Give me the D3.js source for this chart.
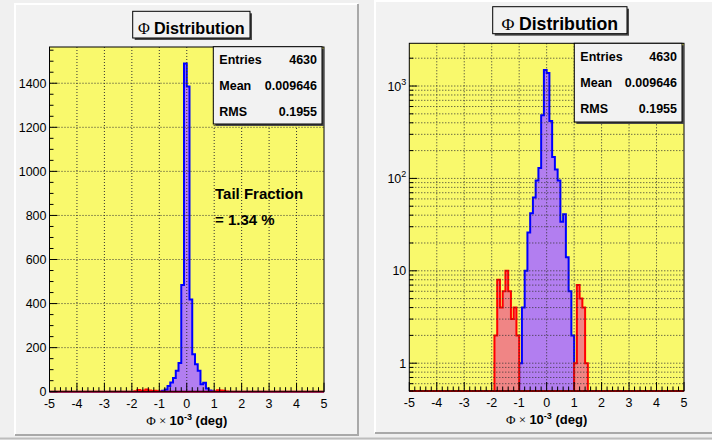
<!DOCTYPE html>
<html>
<head>
<meta charset="utf-8">
<script src="https://cdn.jsdelivr.net/npm/d3@7"></script>
<style>
  body { margin: 0; background: #f0f0f0; }
  svg { display: block; font-family: "Liberation Sans", Arial, sans-serif; }
</style>
</head>
<body>
<svg id="chart" width="712" height="440"></svg>
<script>
// histogram contents, bins of 0.1 between -5 and 5
const xMin = -5, xMax = 5, binWidth = 0.1;
const coreLow = [-1.0, -0.9, -0.8, -0.7, -0.6, -0.5, -0.4, -0.3, -0.2, -0.1,
                 0.0, 0.1, 0.2, 0.3, 0.4, 0.5, 0.6, 0.7, 0.8, 0.9];
const coreCounts = [1, 4, 10, 26, 42, 62, 95, 130, 484, 1490,
                    1385, 419, 170, 125, 95, 34, 41, 14, 6, 2];
const tailLow = [-1.9, -1.8, -1.7, -1.6, -1.5, -1.4, -1.3, -1.2, -1.1,
                 1.0, 1.1, 1.2, 1.3, 1.4];
const tailCounts = [2, 8, 4, 6, 10, 6, 3, 4, 2,
                    1, 7, 5, 4, 1];

const statLabels = ["Entries", "Mean", "RMS"];
const statValues = ["4630", "0.009646", "0.1955"];
const xTicks = [-5, -4, -3, -2, -1, 0, 1, 2, 3, 4, 5];
const linTicks = [0, 200, 400, 600, 800, 1000, 1200, 1400];
const logTicks = [1, 10, 100, 1000];
const logMin = 0.5, logMax = 2900;

const svg = d3.select("#chart");
const nBins = Math.round((xMax - xMin) / binWidth);

function fillBins(lows, counts) {
  const bins = d3.range(nBins).map(i => ({ x0: xMin + i * binWidth, x1: xMin + (i + 1) * binWidth, v: 0 }));
  lows.forEach((lo, i) => { bins[Math.round((lo - xMin) / binWidth)].v = counts[i]; });
  return bins;
}
const coreBins = fillBins(coreLow, coreCounts);
const tailBins = fillBins(tailLow, tailCounts);

function stepPath(bins, x, yv) {
  let d = `M${x(bins[0].x0)},${yv(0)}`;
  bins.forEach(b => { d += `L${x(b.x0)},${yv(b.v)}L${x(b.x1)},${yv(b.v)}`; });
  d += `L${x(bins[bins.length - 1].x1)},${yv(0)}Z`;
  return d;
}

function drawPad(p) {
  const g = svg.append("g");
  // pad with bevel
  g.append("rect").attr("x", p.pad[0]).attr("y", p.pad[1])
    .attr("width", p.pad[2] - p.pad[0]).attr("height", p.pad[3] - p.pad[1]).attr("fill", "#f2f2f2");
  g.append("path").attr("d", `M${p.pad[0]},${p.pad[3]}V${p.pad[1]}H${p.pad[2]}`)
    .attr("fill", "none").attr("stroke", "#ffffff").attr("stroke-width", 2);
  g.append("path").attr("d", `M${p.pad[0]},${p.pad[3]}H${p.pad[2]}V${p.pad[1]}`)
    .attr("fill", "none").attr("stroke", "#a9a9a9").attr("stroke-width", 2);

  const [fx0, fy0, fx1, fy1] = p.frame;
  const x = d3.scaleLinear().domain([xMin, xMax]).range([fx0, fx1]);
  let y, yv, majors, minors;
  if (p.log) {
    y = d3.scaleLog().domain([logMin, logMax]).range([fy1, fy0]);
    yv = v => y(Math.max(v, logMin));
    majors = logTicks;
    minors = y.ticks().filter(t => !logTicks.includes(t));
  } else {
    y = d3.scaleLinear().domain([0, 1.05 * d3.max(coreCounts)]).range([fy1, fy0]);
    yv = v => y(v);
    majors = linTicks;
    minors = d3.range(0, y.domain()[1], 50).filter(t => !linTicks.includes(t));
  }

  g.append("rect").attr("x", fx0).attr("y", fy0).attr("width", fx1 - fx0).attr("height", fy1 - fy0)
    .attr("fill", "#f9f96c");

  const clipId = "clip" + (p.log ? "log" : "lin");
  g.append("clipPath").attr("id", clipId).append("rect")
    .attr("x", fx0 - 1).attr("y", fy0 - 1).attr("width", fx1 - fx0 + 2).attr("height", fy1 - fy0 + 2);

  const hist = g.append("g").attr("clip-path", `url(#${clipId})`);
  hist.append("path").attr("d", stepPath(coreBins, x, yv))
    .attr("fill", "#b27ef0").attr("stroke", "#0000ff").attr("stroke-width", 2).attr("stroke-linejoin", "miter");
  hist.append("path").attr("d", stepPath(tailBins, x, yv))
    .attr("fill", "#f08585").attr("stroke", "#ff0000").attr("stroke-width", 2);

  // grid
  const grid = g.append("g").attr("stroke", "#333").attr("stroke-width", 1).attr("stroke-dasharray", "1,2");
  xTicks.slice(1, -1).forEach(t => {
    grid.append("line").attr("x1", x(t)).attr("x2", x(t)).attr("y1", fy0).attr("y2", fy1);
  });
  (p.log ? y.ticks() : linTicks.slice(1)).forEach(t => {
    grid.append("line").attr("x1", fx0).attr("x2", fx1).attr("y1", y(t)).attr("y2", y(t));
  });

  g.append("rect").attr("x", fx0).attr("y", fy0).attr("width", fx1 - fx0).attr("height", fy1 - fy0)
    .attr("fill", "none").attr("stroke", "#000").attr("stroke-width", 1);

  // ticks drawn inside the frame, like ROOT
  const ticks = g.append("g").attr("stroke", "#000").attr("stroke-width", 1);
  x.ticks(50).forEach(t => {
    const len = xTicks.includes(Math.round(t * 10) / 10) ? 9 : 4.5;
    ticks.append("line").attr("x1", x(t)).attr("x2", x(t)).attr("y1", fy1).attr("y2", fy1 - len);
  });
  majors.forEach(t => {
    ticks.append("line").attr("x1", fx0).attr("x2", fx0 + 8).attr("y1", y(t)).attr("y2", y(t));
  });
  minors.forEach(t => {
    ticks.append("line").attr("x1", fx0).attr("x2", fx0 + 4).attr("y1", y(t)).attr("y2", y(t));
  });

  g.selectAll(".xl").data(xTicks).enter().append("text")
    .attr("x", d => x(d)).attr("y", fy1 + 16).attr("text-anchor", "middle")
    .attr("font-size", 12.5).text(d => d);

  const yl = g.selectAll(".yl").data(majors).enter().append("text")
    .attr("x", fx0 - 3).attr("y", d => y(d) + 4.5).attr("text-anchor", "end").attr("font-size", 12.5);
  if (p.log) {
    yl.each(function (d) {
      const e = Math.round(Math.log10(d));
      const t = d3.select(this);
      if (e < 2) { t.text(d); return; }
      t.append("tspan").text("10");
      t.append("tspan").attr("dy", -6).attr("font-size", 9).text(e);
    });
  } else {
    yl.text(d => d);
  }

  // axis title
  const at = g.append("text").attr("x", (fx0 + fx1) / 2).attr("y", fy1 + 33)
    .attr("text-anchor", "middle").attr("font-size", 13);
  at.append("tspan").attr("font-family", "Liberation Serif, serif").text("Φ × ");
  at.append("tspan").attr("font-weight", "bold").text("10");
  at.append("tspan").attr("font-weight", "bold").attr("font-size", 9).attr("dy", -5).text("-3");
  at.append("tspan").attr("font-weight", "bold").attr("dy", 5).text(" (deg)");

  // stats box
  const [sx0, sy0, sx1, sy1] = p.stats;
  g.append("rect").attr("x", sx0 + 2).attr("y", sy0 + 2).attr("width", sx1 - sx0).attr("height", sy1 - sy0).attr("fill", "#4a4a4a");
  g.append("rect").attr("x", sx0).attr("y", sy0).attr("width", sx1 - sx0).attr("height", sy1 - sy0)
    .attr("fill", "#f2f2f2").attr("stroke", "#000").attr("stroke-width", 1);
  const rowH = (sy1 - sy0) / 3;
  statLabels.forEach((lab, i) => {
    g.append("text").attr("x", sx0 + 6).attr("y", sy0 + rowH * (i + 0.5) + 4.5)
      .attr("font-size", 12.5).attr("font-weight", "bold").text(lab);
    g.append("text").attr("x", sx1 - 5).attr("y", sy0 + rowH * (i + 0.5) + 4.5)
      .attr("text-anchor", "end").attr("font-size", 12.5).attr("font-weight", "bold").text(statValues[i]);
  });

  // title box
  const [tx0, ty0, tx1, ty1] = p.title;
  g.append("rect").attr("x", tx0 + 2).attr("y", ty0 + 2).attr("width", tx1 - tx0).attr("height", ty1 - ty0).attr("fill", "#4a4a4a");
  g.append("rect").attr("x", tx0).attr("y", ty0).attr("width", tx1 - tx0).attr("height", ty1 - ty0)
    .attr("fill", "#f2f2f2").attr("stroke", "#000").attr("stroke-width", 1);
  const tt = g.append("text").attr("x", (tx0 + tx1) / 2).attr("y", p.titleBase)
    .attr("text-anchor", "middle").attr("font-size", p.titleSize);
  tt.append("tspan").attr("font-family", "Liberation Serif, serif").text("Φ ");
  tt.append("tspan").attr("font-weight", "bold").text("Distribution");

  return { g, x, y };
}

const left = drawPad({
  pad: [15, 4, 358, 435], frame: [49.5, 47, 324, 391.7], log: false,
  stats: [213.3, 46.7, 322, 124], title: [132.7, 11.3, 250, 38], titleBase: 33.7, titleSize: 16.2
});
drawPad({
  pad: [375, 1, 713, 433], frame: [409.3, 43.3, 684, 391], log: true,
  stats: [574.3, 43.3, 682, 122], title: [492.7, 6.7, 627, 33.7], titleBase: 30, titleSize: 17.7
});

left.g.append("text").attr("x", 215).attr("y", 198.5).attr("font-size", 15).attr("font-weight", "bold").text("Tail Fraction");
left.g.append("text").attr("x", 215).attr("y", 225.3).attr("font-size", 15).attr("font-weight", "bold").text("= 1.34 %");

svg.append("line").attr("x1", 0).attr("x2", 712).attr("y1", 438.5).attr("y2", 438.5)
  .attr("stroke", "#bdbdbd").attr("stroke-width", 2);
</script>
</body>
</html>
